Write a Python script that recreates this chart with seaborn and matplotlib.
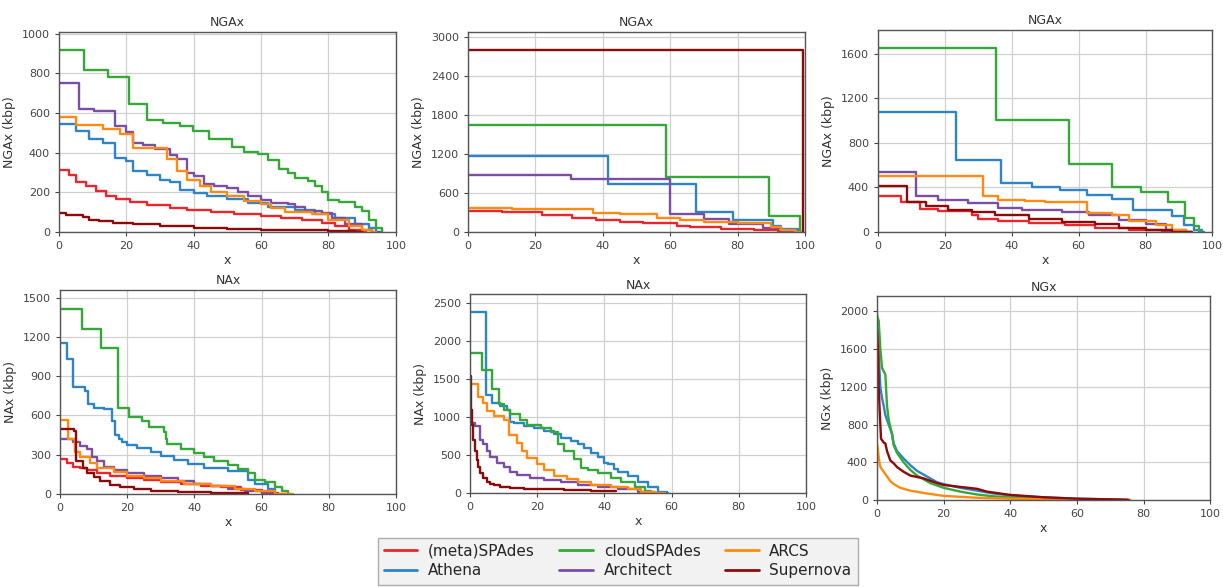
import pandas as pd
import seaborn as sns
import matplotlib.pyplot as plt

# tools and colours
tools = ["(meta)SPAdes", "Athena", "cloudSPAdes", "Architect", "ARCS", "Supernova"]
colors = {"(meta)SPAdes": "#e8262b", "Athena": "#2f84c6", "cloudSPAdes": "#36a83a",
          "Architect": "#7b4ea3", "ARCS": "#ff8a12", "Supernova": "#8b0a0a"}

# panel 1: NGAx
ngax1 = {
    "cloudSPAdes": ([0, 7.4, 14.6, 20.8, 26.2, 30.8, 36, 39.8, 44.5, 51.5, 55, 59, 62, 65.3, 68, 70, 74, 76, 78, 80, 83, 88, 90, 92, 94, 96],
                    [920, 815, 780, 645, 565, 548, 535, 510, 470, 430, 405, 395, 365, 320, 300, 270, 255, 230, 200, 160, 150, 125, 105, 60, 20, 0]),
    "Architect": ([0, 6, 10.5, 16.5, 20, 22, 25, 28.5, 33, 35, 38, 40, 43, 46, 50, 53, 56, 60, 63, 68, 70, 73, 78, 81, 85, 90, 93, 95],
                  [750, 620, 610, 535, 505, 450, 440, 420, 390, 370, 300, 280, 240, 230, 220, 200, 180, 160, 145, 140, 125, 105, 95, 70, 40, 10, 0, 0]),
    "ARCS": ([0, 5, 13, 18, 22, 32, 35, 38, 42, 45, 50, 55, 60, 63, 67, 75, 80, 86, 90, 93, 94],
             [580, 540, 520, 495, 425, 370, 310, 260, 230, 200, 180, 155, 140, 120, 100, 90, 60, 30, 10, 0, 0]),
    "Athena": ([0, 5, 9, 13, 16.5, 20, 22, 26, 30, 33, 36, 40, 44, 50, 56, 62, 70, 76, 82, 88, 92, 94, 96],
               [545, 510, 470, 450, 375, 360, 310, 290, 260, 250, 210, 195, 180, 165, 145, 125, 110, 90, 70, 40, 20, 0, 0]),
    "(meta)SPAdes": ([0, 3, 5, 8, 11, 14, 17, 21, 26, 33, 38, 45, 52, 60, 66, 72, 78, 82, 86, 90, 91],
                     [315, 285, 250, 230, 205, 180, 165, 150, 135, 120, 110, 100, 90, 80, 70, 60, 45, 30, 10, 0, 0]),
    "Supernova": ([0, 2, 7, 9, 12, 16, 22, 30, 40, 50, 60, 70, 80, 88, 90],
                  [95, 85, 75, 60, 55, 45, 38, 30, 22, 17, 12, 8, 4, 2, 2]),
}

# panel 2: NGAx
ngax2 = {
    "Supernova": ([0, 99.5, 99.5], [2800, 2800, 0]),
    "cloudSPAdes": ([0, 58.8, 89.3, 98.5], [1650, 850, 250, 0]),
    "Athena": ([0, 41.6, 67.7, 78.7, 90.6, 93, 98, 99], [1170, 730, 300, 180, 90, 40, 0, 0]),
    "Architect": ([0, 30.5, 59.9, 70, 77.5, 87.5, 93, 97, 98], [870, 820, 280, 200, 130, 60, 20, 0, 0]),
    "ARCS": ([0, 13, 37, 45, 56, 63, 70, 80, 90, 93, 97, 99], [370, 350, 290, 270, 220, 180, 150, 140, 80, 30, 0, 0]),
    "(meta)SPAdes": ([0, 10, 22, 31, 38, 45, 52, 62, 66, 75, 85, 92, 96, 98], [330, 310, 260, 210, 190, 160, 140, 90, 70, 50, 30, 10, 0, 0]),
}

# panel 3: NGAx
ngax3 = {
    "cloudSPAdes": ([0, 35.3, 57.2, 70.1, 78.5, 86.7, 91.8, 94.5, 96, 96.5], [1650, 1010, 610, 400, 355, 265, 130, 50, 0, 0]),
    "Athena": ([0, 23.2, 36.7, 46, 54.5, 62.5, 70, 76.2, 88, 91.5, 94.5, 97, 97.5], [1080, 650, 440, 400, 375, 330, 300, 200, 140, 60, 20, 0, 0]),
    "Architect": ([0, 11.5, 18, 27, 36, 43, 55, 63, 72, 80, 86, 92, 94], [540, 320, 285, 260, 215, 195, 180, 150, 110, 70, 20, 0, 0]),
    "ARCS": ([0, 31.5, 36, 44, 50, 62.5, 70, 75, 83, 88, 92, 94], [500, 320, 290, 275, 265, 170, 150, 100, 60, 20, 0, 0]),
    "Supernova": ([0, 8.7, 14.5, 21, 28, 35, 45, 55, 65, 72, 80, 88, 94], [410, 265, 230, 200, 180, 150, 120, 90, 70, 40, 15, 0, 0]),
    "(meta)SPAdes": ([0, 6.8, 12.5, 18, 28, 30, 36, 45, 56, 65, 75, 85, 94], [325, 265, 210, 185, 150, 120, 100, 80, 60, 40, 20, 0, 0]),
}

# panel 4: NAx
nax1 = {
    "cloudSPAdes": ([0, 6.5, 12.3, 17.4, 20.5, 24.5, 26.5, 31, 31.5, 32, 36, 40, 43, 46, 50, 53, 56, 58, 61, 64, 66, 68, 69],
                    [1415, 1260, 1115, 655, 585, 555, 510, 470, 420, 380, 340, 310, 280, 250, 220, 190, 160, 110, 90, 50, 20, 0, 0]),
    "Athena": ([0, 2, 4, 7.5, 8.5, 10, 13, 15.5, 16.5, 17.5, 18.5, 20, 23, 27, 30, 34, 38, 43, 50, 56, 58, 62, 64, 65],
               [1150, 1030, 820, 790, 690, 660, 650, 560, 450, 420, 395, 375, 350, 320, 290, 260, 230, 200, 175, 110, 80, 40, 0, 0]),
    "Architect": ([0, 4, 6, 8, 9.5, 11, 13, 16, 20, 25, 30, 35, 40, 45, 50, 55, 60, 65],
                  [420, 400, 370, 340, 280, 250, 210, 180, 160, 140, 120, 100, 80, 60, 40, 20, 0, 0]),
    "ARCS": ([0, 2.5, 4.5, 6, 9, 11, 16, 20, 25, 30, 37, 45, 52, 58, 64, 69.5],
             [565, 420, 320, 280, 240, 200, 170, 140, 120, 100, 80, 60, 40, 20, 0, 0]),
    "Supernova": ([0, 4.2, 4.7, 7, 8, 10, 12, 15, 18, 22, 27, 35, 45, 56],
                  [495, 480, 250, 200, 160, 130, 100, 70, 50, 35, 25, 15, 8, 3]),
    "(meta)SPAdes": ([0, 2, 4, 6, 8, 11, 15, 20, 25, 30, 36, 42, 48, 54, 60, 65, 68],
                     [270, 240, 210, 200, 180, 160, 140, 125, 110, 95, 80, 65, 50, 30, 10, 0, 0]),
}

# panel 5: NAx
nax2 = {
    "Athena": ([0, 4.8, 6.5, 9, 11, 11.8, 13, 16, 19, 22, 25, 27, 30, 32, 34, 36, 38, 40, 41, 43, 44, 47, 50, 53, 56, 58.5, 59],
               [2390, 1290, 1190, 1150, 1090, 940, 920, 880, 860, 820, 780, 720, 680, 640, 600, 530, 480, 400, 380, 320, 280, 220, 150, 80, 20, 0, 0]),
    "cloudSPAdes": ([0, 3.5, 6.5, 8.5, 10, 12, 15, 17, 21, 24, 26.2, 28, 31, 33, 35, 38, 42, 45, 49, 52, 54, 54.5],
                    [1840, 1620, 1370, 1170, 1100, 1040, 960, 900, 860, 800, 640, 560, 450, 330, 300, 260, 200, 140, 80, 30, 0, 0]),
    "ARCS": ([0, 2.5, 4, 5, 7, 10, 11.5, 14, 15.5, 17, 20, 22, 25, 29, 32, 36, 42, 47, 51, 55, 58],
             [1440, 1260, 1180, 1080, 1010, 960, 760, 660, 560, 460, 380, 300, 220, 180, 150, 110, 80, 50, 20, 0, 0]),
    "Architect": ([0, 1.5, 3, 4, 5, 6, 8, 10, 12, 14, 18, 22, 27, 32, 38, 44, 50, 55, 57],
                  [920, 880, 700, 640, 560, 480, 400, 340, 280, 240, 200, 170, 140, 110, 80, 50, 20, 0, 0]),
    "Supernova": ([0, 0.2, 0.6, 1, 1.5, 2, 2.5, 3, 4, 5, 6, 7, 9, 12, 16, 20, 28, 36, 43.5],
                  [1540, 1100, 900, 700, 560, 430, 340, 260, 200, 150, 120, 100, 80, 70, 60, 50, 40, 30, 30]),
}

# panel 6: NGx (smooth curves)
ngx = {
    "Athena": ([0, 0.3, 0.7, 1, 1.5, 2, 2.5, 3.5, 4.5, 5, 6, 7, 8, 10, 12, 14, 16, 18, 20, 25, 30, 35, 40, 50, 60, 70, 75],
               [1980, 1700, 1400, 1200, 1080, 1000, 900, 800, 700, 600, 520, 480, 440, 370, 310, 270, 230, 190, 170, 130, 100, 70, 50, 30, 15, 8, 3]),
    "cloudSPAdes": ([0, 0.5, 1, 1.5, 2.5, 3, 3.5, 4.5, 5, 6, 8, 10, 12, 14, 16, 20, 25, 30, 35, 40, 50, 60, 70, 75],
                    [1950, 1900, 1600, 1400, 1330, 1000, 850, 700, 580, 500, 400, 320, 260, 220, 180, 130, 90, 60, 40, 30, 20, 10, 5, 2]),
    "Supernova": ([0, 0.3, 0.5, 0.8, 1, 1.2, 2, 2.5, 3, 4, 5, 6, 8, 10, 14, 18, 20, 25, 30, 33, 40, 50, 60, 70, 75.5],
                  [1800, 1600, 1200, 950, 800, 650, 610, 600, 520, 420, 390, 350, 300, 260, 230, 180, 160, 140, 120, 90, 55, 30, 15, 8, 3]),
    "ARCS": ([0, 0.3, 0.7, 1, 2, 3, 4, 5, 7, 10, 15, 20, 30, 40, 50, 60, 70, 76],
             [600, 520, 400, 350, 300, 250, 200, 170, 130, 100, 70, 45, 25, 15, 10, 6, 3, 2]),
}

panels = [
    (ngax1, "NGAx", "NGAx (kbp)", 1010, [0, 200, 400, 600, 800, 1000], True),
    (ngax2, "NGAx", "NGAx (kbp)", 3075, [0, 600, 1200, 1800, 2400, 3000], True),
    (ngax3, "NGAx", "NGAx (kbp)", 1815, [0, 400, 800, 1200, 1600], True),
    (nax1, "NAx", "NAx (kbp)", 1560, [0, 300, 600, 900, 1200, 1500], True),
    (nax2, "NAx", "NAx (kbp)", 2620, [0, 500, 1000, 1500, 2000, 2500], True),
    (ngx, "NGx", "NGx (kbp)", 2160, [0, 400, 800, 1200, 1600, 2000], False),
]

# axes boxes in figure fractions (left, bottom, width, height)
boxes = [
    (0.0482, 0.6048, 0.2755, 0.3410),
    (0.3827, 0.6048, 0.2755, 0.3410),
    (0.7179, 0.6048, 0.2735, 0.3440),
    (0.0490, 0.1584, 0.2747, 0.3480),
    (0.3843, 0.1600, 0.2747, 0.3390),
    (0.7171, 0.1480, 0.2725, 0.3475),
]

sns.set_style("ticks")
plt.rcParams["font.family"] = ["DejaVu Sans"]
fig = plt.figure(figsize=(12.23, 5.87), dpi=100)

for (data, title, ylab, ytop, yt, steps), box in zip(panels, boxes):
    ax = fig.add_axes(box)
    rows = []
    for name in tools:
        if name not in data:
            continue
        xs, ys = data[name]
        for xv, yv in zip(xs, ys):
            rows.append({"tool": name, "x": xv, "y": yv})
    df = pd.DataFrame(rows)
    kw = {"drawstyle": "steps-post"} if steps else {}
    sns.lineplot(data=df, x="x", y="y", hue="tool", palette=colors, estimator=None,
                 sort=False, legend=False, linewidth=1.7, ax=ax, **kw)
    ax.set_xlim(0, 100)
    ax.set_ylim(0, ytop)
    ax.set_xticks([0, 20, 40, 60, 80, 100])
    ax.set_yticks(yt)
    ax.grid(True, color="#d0d0d0", linewidth=0.9)
    ax.set_axisbelow(True)
    ax.set_title(title, fontsize=9, color="#333333", pad=4)
    ax.set_xlabel("x", fontsize=9, color="#333333", labelpad=2)
    ax.set_ylabel(ylab, fontsize=9, color="#333333", labelpad=4)
    ax.tick_params(labelsize=8, colors="#444444", length=3)
    for sp in ax.spines.values():
        sp.set_visible(True)
        sp.set_color("#555555")
        sp.set_linewidth(1.0)

# shared legend at the bottom
handles = [plt.Line2D([], [], color=colors[t], linewidth=2) for t in tools]
leg = fig.legend(handles, tools, loc="upper center", bbox_to_anchor=(0.505, 0.097),
                 ncol=3, fontsize=11, frameon=True, fancybox=False, handlelength=2.2,
                 handletextpad=0.7, columnspacing=1.6, borderpad=0.4, labelspacing=0.3)
leg.get_frame().set_facecolor("#efefef")
leg.get_frame().set_edgecolor("#999999")

fig.savefig("out.png", dpi=100)
